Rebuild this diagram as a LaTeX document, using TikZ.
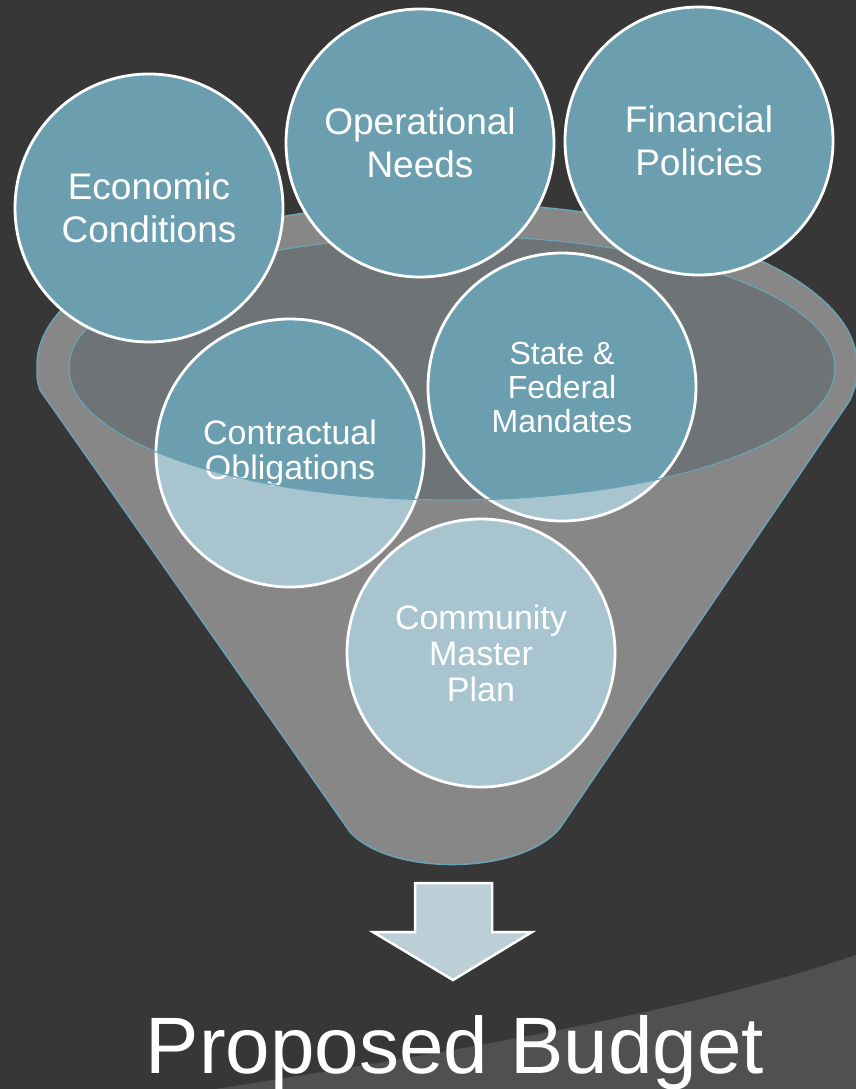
\documentclass[tikz,border=0pt]{standalone}
\usepackage{fontspec}
\setmainfont{Liberation Sans}

\definecolor{slide}{HTML}{373737}
\definecolor{sweep}{HTML}{505050}
\definecolor{funnelgray}{HTML}{878787}
\definecolor{rimgray}{HTML}{6E7376}
\definecolor{rimline}{HTML}{6AA3B5}
\definecolor{ballteal}{HTML}{6B9FB0}
\definecolor{balllight}{HTML}{A8C5CF}
\definecolor{arrowfill}{HTML}{BCCFD7}

\begin{document}
\begin{tikzpicture}[x=1pt, y=-1pt,
    ball/.style={circle, draw=white, line width=2.8pt, minimum size=268pt, inner sep=0pt, align=center, text=white},
    topball/.style={ball, fill=ballteal, font=\fontsize{37}{43}\selectfont},
    lowball/.style={ball, font=\fontsize{34}{35}\selectfont}]
                \useasboundingbox (0,0) rectangle (856,1089);
                % backdrop
                \fill[slide] (0,0) rectangle (856,1089);
                \fill[sweep] (215,1089) .. controls (480,1048) and (700,1008) .. (856,955) -- (856,1089) -- cycle;
                % funnel body
                \draw[rimline, line width=1.5pt, fill=funnelgray] (37,365)
                    arc[start angle=180, end angle=0, x radius=410pt, y radius=162pt]
                    .. controls (857,382) .. (850,400) -- (560,828)
                    .. controls (520,876) and (390,876) .. (350,832)
                    -- (40,390) .. controls (37,380) .. (37,365) -- cycle;
                \coordinate (rim) at (452,368);
                \fill[rimgray] (rim) ellipse[x radius=383pt, y radius=132pt];
                % lower balls, darker where the rim covers them
                \foreach \x/\y in {290/453, 562/387, 481/653} {
                    \fill[balllight] (\x,\y) circle[radius=134pt];
                }
                \begin{scope}
                    \clip (rim) ellipse[x radius=383pt, y radius=132pt];
                    \foreach \x/\y in {290/453, 562/387, 481/653} {
                        \fill[ballteal] (\x,\y) circle[radius=134pt];
                    }
                \end{scope}
                \node[lowball] (contr) at (290,453) {Contractual\\Obligations};
                \node[lowball, font=\fontsize{32}{34}\selectfont] (state) at (562,387) {State \&\\Federal\\Mandates};
                \node[lowball, font=\fontsize{34}{36}\selectfont] (commun) at (481,653) {Community\\Master\\Plan};
                \draw[rimline, line width=1.2pt] (rim) ellipse[x radius=383pt, y radius=132pt];
                % top balls
                \foreach \name/\x/\y/\txt in {econ/149/208/{Economic\\Conditions}, oper/420/143/{Operational\\Needs}, finan/699/141/{Financial\\Policies}} {
                    \node[topball] (\name) at (\x,\y) {\txt};
                }
                % outcome
                \draw[white, line width=2.5pt, fill=arrowfill] (415,883) -- (492,883) -- (492,932) -- (532,932)
                    -- (453,980) -- (373,932) -- (415,932) -- cycle;
                \node[anchor=base, text=white, font=\fontsize{80}{90}\selectfont] (budget) at (455,1073) {Proposed Budget};
            \end{tikzpicture}
\end{document}
